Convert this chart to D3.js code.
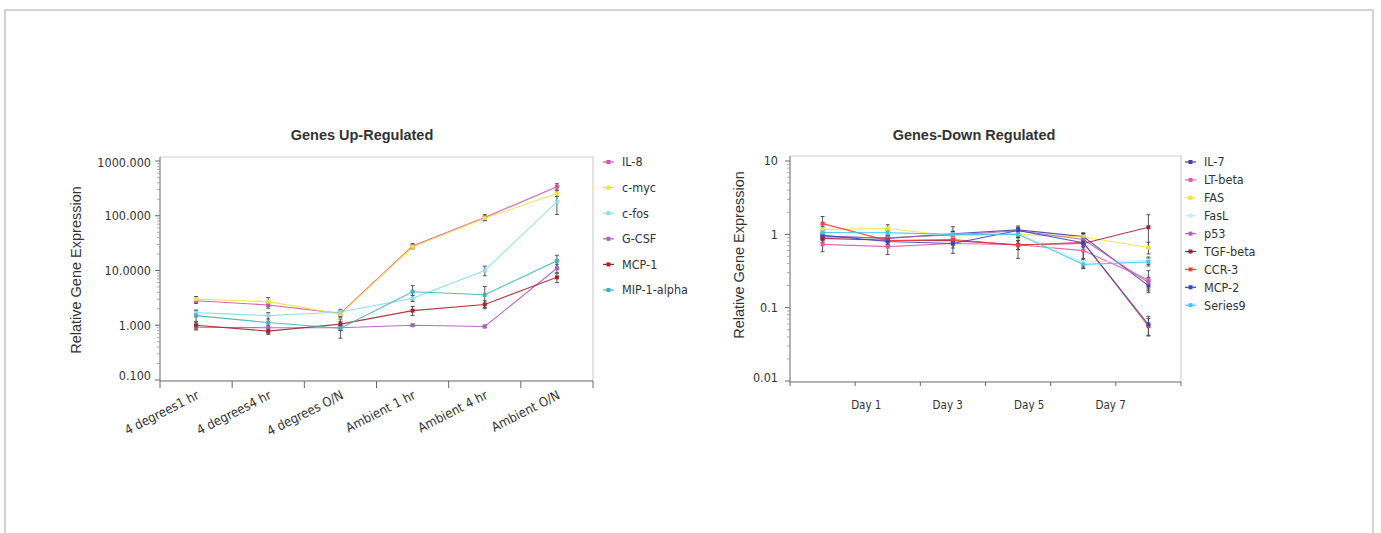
<!DOCTYPE html>
<html>
<head>
<meta charset="utf-8">
<script src="https://cdn.jsdelivr.net/npm/d3@7"></script>
<style>
  body { margin: 0; background: #fff; }
  svg text { font-family: "Liberation Sans Narrow", "DejaVu Sans Condensed", sans-serif; fill: #333; }
  .title { font-family: "Liberation Sans", Arial, sans-serif !important; font-weight: bold; font-size: 14.5px; }
  .ylabel { font-family: "Liberation Sans", Arial, sans-serif !important; font-size: 14.5px; }
</style>
</head>
<body>
<svg id="chart" width="1381" height="533"></svg>
<script>
// ---- Genes Up-Regulated ----
const up_categories = ["4 degrees1 hr", "4 degrees4 hr", "4 degrees O/N", "Ambient 1 hr", "Ambient 4 hr", "Ambient O/N"];
const up_ticks = [0.1, 1, 10, 100, 1000];
const up_tick_labels = ["0.100", "1.000", "10.0000", "100.000", "1000.000"];
const up_names = ["IL-8", "c-myc", "c-fos", "G-CSF", "MCP-1", "MIP-1-alpha"];

const il8       = [2.8, 2.35, 1.65, 28, 93, 340];
const il8_err   = [0.3, 0.3, 0.2, 3, 12, 45];
const cmyc      = [3.0, 2.7, 1.6, 27, 90, 255];
const cmyc_err  = [0.35, 0.5, 0.2, 2, 8, 30];
const cfos      = [1.7, 1.5, 1.75, 3.1, 10, 180];
const cfos_err  = [0.2, 0.2, 0.2, 0.4, 2, 75];
const gcsf      = [0.92, 0.9, 0.9, 1.0, 0.95, 11];
const gcsf_err  = [0.1, 0.1, 0.1, 0.05, 0.05, 2];
const mcp1      = [1.0, 0.78, 1.05, 1.85, 2.4, 7.5];
const mcp1_err  = [0.15, 0.1, 0.25, 0.35, 0.4, 1.5];
const mip1a     = [1.5, 1.12, 0.88, 4.1, 3.6, 15];
const mip1a_err = [0.35, 0.4, 0.3, 1.2, 1.5, 4];

// ---- Genes-Down Regulated ----
const down_times = [0, 1.6, 3.2, 4.8, 6.4, 8];          // sampling day of each point
const down_day_ticks = [1, 3, 5, 7];
const down_ticks = [0.01, 0.1, 1, 10];
const down_tick_labels = ["0.01", "0.1", "1", "10"];
const down_names = ["IL-7", "LT-beta", "FAS", "FasL", "p53", "TGF-beta", "CCR-3", "MCP-2", "Series9"];

const il7        = [0.95, 0.88, 1.02, 1.15, 0.93, 0.2];
const il7_err    = [0.1, 0.1, 0.25, 0.1, 0.1, 0.03];
const ltbeta     = [0.73, 0.68, 0.75, 0.72, 0.6, 0.24];
const ltbeta_err = [0.15, 0.15, 0.1, 0.1, 0.25, 0.08];
const fas        = [1.17, 1.2, 0.95, 1.0, 0.92, 0.66];
const fas_err    = [0.1, 0.15, 0.1, 0.1, 0.1, 0.12];
const fasl       = [1.06, 1.05, 1.0, 1.02, 0.42, 0.44];
const fasl_err   = [0.1, 0.1, 0.1, 0.1, 0.05, 0.05];
const p53        = [0.92, 0.9, 0.98, 1.12, 0.85, 0.22];
const p53_err    = [0.1, 0.1, 0.1, 0.1, 0.1, 0.04];
const tgfbeta    = [0.88, 0.83, 0.82, 0.72, 0.75, 1.25];
const tgfbeta_err= [0.1, 0.1, 0.1, 0.1, 0.3, 0.6];
const ccr3       = [1.4, 0.82, 0.85, 0.71, 0.78, 0.056];
const ccr3_err   = [0.35, 0.1, 0.1, 0.24, 0.1, 0.015];
const mcp2       = [0.97, 0.8, 0.75, 1.13, 0.77, 0.059];
const mcp2_err   = [0.1, 0.1, 0.2, 0.17, 0.1, 0.017];
const series9    = [1.06, 1.05, 1.0, 1.0, 0.39, 0.42];
const series9_err= [0.1, 0.1, 0.1, 0.1, 0.05, 0.05];

// palettes (style, kept apart from the data)
const up_colors = ["#d64fb0", "#f2e23c", "#8fdbe8", "#b45ac6", "#a4262c", "#3fb3bd"];
const down_colors = ["#4b3fa6", "#e25aa8", "#f2e23c", "#bfeef7", "#b65fb6", "#a02434", "#ff3b3b", "#3048c2", "#41c6ee"];

const svg = d3.select("#chart");

// page frame
svg.append("rect").attr("x", 5).attr("y", 10).attr("width", 1368).attr("height", 540)
  .attr("fill", "none").attr("stroke", "#c4c4c4").attr("stroke-width", 1.5);

function draw_panel(o) {
  let g = svg.append("g");
  let y = d3.scaleLog().domain(o.ydomain).range([o.bottom - 1, 161]);
  let x = d3.scaleBand().domain(d3.range(o.nPoints)).range([o.left, o.right]);
  let cx = function (i) { return x(i) + x.bandwidth() / 2; };

  // frame: light top/right, dark left/bottom
  g.append("path")
    .attr("d", "M" + o.left + "," + o.top + "H" + o.right + "V" + o.bottom)
    .attr("fill", "none").attr("stroke", "#cfcfcf").attr("stroke-width", 1.2);
  g.append("path")
    .attr("d", "M" + o.left + "," + o.top + "V" + o.bottom + "H" + o.right)
    .attr("fill", "none").attr("stroke", "#666").attr("stroke-width", 1);

  // y ticks: majors + minors on log axis
  let minors = [];
  for (let k = 0; k < o.yticks.length - 1; k++) {
    for (let m = 2; m <= 9; m++) minors.push(o.yticks[k] * m);
  }
  g.selectAll(".minor").data(minors).enter().append("line")
    .attr("x1", o.left - 3).attr("x2", o.left)
    .attr("y1", d => y(d)).attr("y2", d => y(d))
    .attr("stroke", "#999").attr("stroke-width", 0.8);
  g.selectAll(".major").data(o.yticks).enter().append("line")
    .attr("x1", o.left - 5).attr("x2", o.left)
    .attr("y1", d => y(d)).attr("y2", d => y(d))
    .attr("stroke", "#666");
  g.selectAll(".ylab").data(o.yticks).enter().append("text")
    .attr("x", o.left - o.labelGap).attr("y", (d, i) => y(d) + o.labelShift[i])
    .attr("dy", ".35em").attr("text-anchor", "end")
    .style("font-size", "12.5px")
    .text((d, i) => o.ytickLabels[i]);

  // x ticks at band edges
  let edges = d3.range(o.nPoints + 1).map(i => o.left + i * x.bandwidth());
  g.selectAll(".xt").data(edges).enter().append("line")
    .attr("x1", d => d).attr("x2", d => d)
    .attr("y1", o.bottom).attr("y2", o.bottom + o.xTickLen)
    .attr("stroke", "#666");

  // titles
  g.append("text").attr("class", "title").attr("x", o.titleX).attr("y", 140)
    .attr("text-anchor", "middle").text(o.title);
  g.append("text").attr("class", "ylabel")
    .attr("transform", "translate(" + o.ylabelX + "," + o.ylabelY + ") rotate(-90)")
    .attr("text-anchor", "middle").text("Relative Gene Expression");

  // series lines
  let line = d3.line().x((d, i) => cx(i)).y(d => y(d));
  o.series.forEach(function (s, k) {
    g.append("path").attr("d", line(s.values))
      .attr("fill", "none").attr("stroke", o.colors[k]).attr("stroke-width", 1.1)
      .attr("opacity", 0.9);
  });
  // error bars
  o.series.forEach(function (s) {
    s.values.forEach(function (v, i) {
      let e = s.err[i];
      let lo = Math.max(v - e, o.ydomain[0]);
      let px = cx(i);
      let eb = g.append("g").attr("stroke", "#444").attr("stroke-width", 0.9);
      eb.append("line").attr("x1", px).attr("x2", px).attr("y1", y(v + e)).attr("y2", y(lo));
      eb.append("line").attr("x1", px - 2).attr("x2", px + 2).attr("y1", y(v + e)).attr("y2", y(v + e));
      eb.append("line").attr("x1", px - 2).attr("x2", px + 2).attr("y1", y(lo)).attr("y2", y(lo));
    });
  });
  // markers
  o.series.forEach(function (s, k) {
    g.selectAll(".m" + k).data(s.values).enter().append("rect")
      .attr("x", (d, i) => cx(i) - 2).attr("y", d => y(d) - 2)
      .attr("width", 4).attr("height", 4).attr("fill", o.colors[k]);
  });

  // legend
  let leg = g.selectAll(".legend").data(o.series).enter().append("g")
    .attr("transform", (d, i) => "translate(" + o.legendX + "," + (162 + i * o.legendStep) + ")");
  leg.append("line").attr("x1", 0).attr("x2", 11).attr("y1", 0).attr("y2", 0)
    .attr("stroke", (d, i) => o.colors[i]).attr("stroke-width", 1.2);
  leg.append("rect").attr("x", 3.5).attr("y", -2).attr("width", 4).attr("height", 4)
    .attr("fill", (d, i) => o.colors[i]);
  leg.append("text").attr("x", 19).attr("dy", ".35em")
    .style("font-size", "12.5px").text(d => d.name);

  return { g: g, x: x, cx: cx };
}

// left chart
let up = draw_panel({
  title: "Genes Up-Regulated", titleX: 362,
  left: 160, right: 593, top: 157, bottom: 381,
  ydomain: [0.1, 1000], yticks: up_ticks, ytickLabels: up_tick_labels,
  labelGap: 9, labelShift: [-4, 0, 0, 0, 2],
  nPoints: up_categories.length, xTickLen: 7,
  ylabelX: 81, ylabelY: 270,
  legendX: 603, legendStep: 25.6,
  colors: up_colors,
  series: [
    { name: up_names[0], values: il8, err: il8_err },
    { name: up_names[1], values: cmyc, err: cmyc_err },
    { name: up_names[2], values: cfos, err: cfos_err },
    { name: up_names[3], values: gcsf, err: gcsf_err },
    { name: up_names[4], values: mcp1, err: mcp1_err },
    { name: up_names[5], values: mip1a, err: mip1a_err }
  ]
});
up.g.selectAll(".xlab").data(up_categories).enter().append("text")
  .attr("transform", (d, i) => "translate(" + (up.cx(i) + 4) + ",398) rotate(-27)")
  .attr("text-anchor", "end").style("font-size", "13px")
  .text(d => d);

// right chart
let down = draw_panel({
  title: "Genes-Down Regulated", titleX: 974,
  left: 790, right: 1181, top: 156, bottom: 382,
  ydomain: [0.01, 10], yticks: down_ticks, ytickLabels: down_tick_labels,
  labelGap: 12, labelShift: [-3, 0, 0, 0],
  nPoints: down_times.length, xTickLen: 4,
  ylabelX: 744, ylabelY: 255,
  legendX: 1185, legendStep: 17.9,
  colors: down_colors,
  series: [
    { name: down_names[0], values: il7, err: il7_err },
    { name: down_names[1], values: ltbeta, err: ltbeta_err },
    { name: down_names[2], values: fas, err: fas_err },
    { name: down_names[3], values: fasl, err: fasl_err },
    { name: down_names[4], values: p53, err: p53_err },
    { name: down_names[5], values: tgfbeta, err: tgfbeta_err },
    { name: down_names[6], values: ccr3, err: ccr3_err },
    { name: down_names[7], values: mcp2, err: mcp2_err },
    { name: down_names[8], values: series9, err: series9_err }
  ]
});
// day labels along a linear day scale through the point centres
let dayScale = d3.scaleLinear()
  .domain([down_times[0], down_times[down_times.length - 1]])
  .range([down.cx(0), down.cx(down_times.length - 1)]);
down.g.selectAll(".day").data(down_day_ticks).enter().append("text")
  .attr("x", d => dayScale(d) + 3).attr("y", 409)
  .attr("text-anchor", "middle").style("font-size", "11.5px")
  .text(d => "Day " + d);
</script>
</body>
</html>
